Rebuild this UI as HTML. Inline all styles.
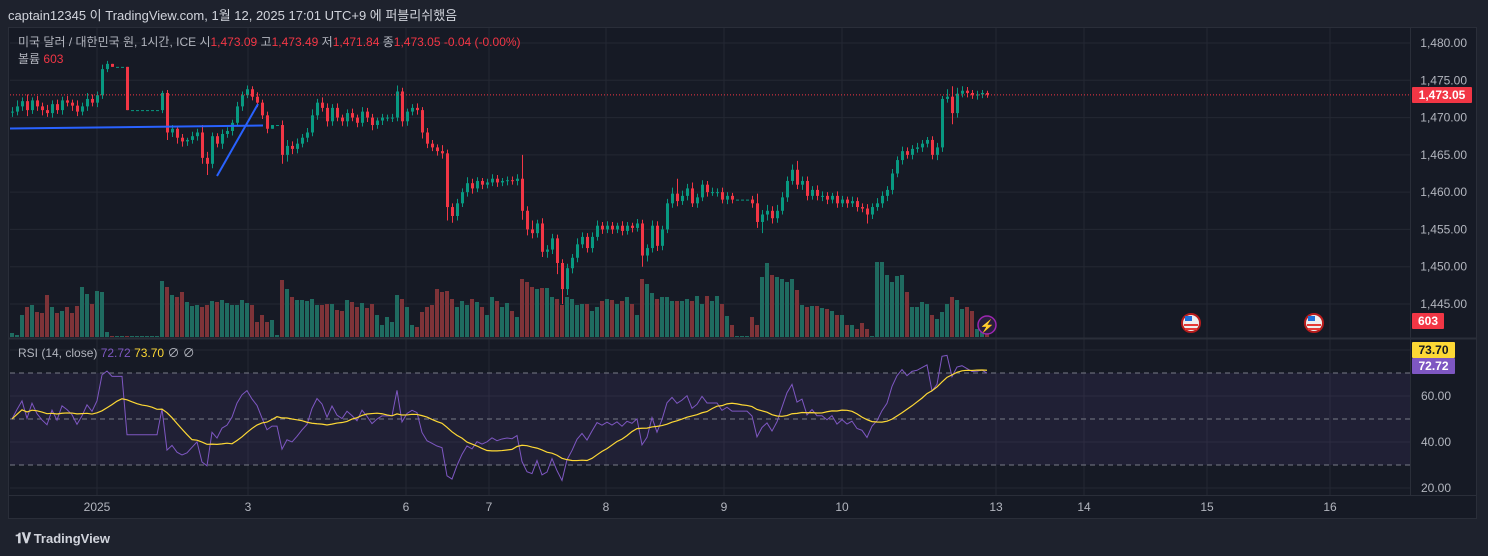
<!DOCTYPE html>
<html><head><meta charset="utf-8">
<style>
html,body{margin:0;padding:0;width:1488px;height:556px;background:#1e222d;overflow:hidden;font-family:"Liberation Sans","Noto Sans CJK KR",sans-serif;}
#hdr{position:absolute;left:8px;top:5px;font-size:13px;color:#d1d4dc;}
#panel{position:absolute;left:8px;top:27px;width:1469px;height:492px;background:#161a25;border:1px solid #2a2e39;box-sizing:border-box;}
svg{position:absolute;left:0;top:0;}
#foot{position:absolute;left:15px;top:530px;font-size:13px;color:#d1d4dc;font-weight:bold;}
</style></head><body>
<div id="hdr">captain12345 이 TradingView.com, 1월 12, 2025 17:01 UTC+9 에 퍼블리쉬했음</div>
<div id="panel"></div>
<svg id="chart" width="1488" height="556"></svg>
<div id="foot"><span style="font-size:14px;letter-spacing:-1px">𝟏𝐕</span> TradingView</div>
<script>
const closes=[1470.8,1471.5,1472.2,1471.0,1472.3,1471.5,1471.0,1470.6,1471.8,1471.0,
1472.3,1472.0,1471.6,1470.8,1471.5,1472.5,1472.0,1473.0,1476.5,1477.2,
1476.8,1476.8,1476.8,1471.0,1471.0,1471.0,1471.0,1471.0,1471.0,1471.0,
1473.3,1468.0,1468.5,1467.3,1466.8,1467.0,1467.5,1468.0,1464.6,1463.8,
1467.5,1466.5,1467.8,1468.2,1469.3,1471.5,1473.0,1473.8,1472.8,1472.0,
1470.3,1468.5,1469.0,1469.0,1465.0,1466.2,1465.8,1466.5,1467.3,1468.0,
1470.3,1472.0,1471.3,1469.5,1471.3,1470.0,1469.5,1470.6,1470.0,1469.3,
1470.8,1470.0,1469.0,1469.6,1470.0,1470.0,1470.0,1473.5,1469.5,1470.8,
1471.3,1471.0,1468.0,1466.5,1466.0,1465.5,1465.2,1458.0,1456.8,1458.5,
1460.0,1461.2,1460.5,1461.5,1461.0,1461.3,1461.8,1461.3,1461.5,1461.6,
1461.5,1461.8,1457.5,1455.0,1454.5,1455.8,1452.0,1452.3,1453.8,1450.5,
1447.0,1449.8,1451.2,1453.0,1454.0,1452.5,1454.0,1455.5,1455.0,1455.5,
1455.0,1455.5,1454.8,1455.5,1455.2,1455.8,1451.5,1452.5,1455.5,1452.8,
1455.0,1458.5,1459.8,1458.8,1459.5,1460.5,1458.5,1459.3,1461.0,1460.0,
1460.0,1460.0,1459.0,1459.5,1459.0,1459.0,1459.0,1459.0,1458.5,1456.0,
1457.0,1457.5,1456.5,1457.5,1459.3,1461.5,1463.0,1461.0,1461.5,1459.5,
1460.3,1459.5,1459.5,1459.0,1459.5,1458.5,1459.0,1458.5,1458.8,1458.0,
1457.8,1457.0,1458.0,1458.5,1459.5,1460.3,1462.5,1464.3,1465.5,1465.0,
1465.8,1466.0,1466.5,1467.0,1465.0,1466.0,1472.5,1472.8,1470.6,1473.2,
1473.6,1473.3,1473.0,1473.1,1473.3,1473.05];
const wickHi=[.6,.8,.5,.9,.4,.6,.5,.7,.5,.6,.5,.6,.4,.7,.5,.8,.6,.5,.6,.4,
0,0,0,0,0,0,0,0,0,0,.3,.4,.5,.4,.5,.3,.6,.5,1.0,.8,
.5,.4,.6,.5,.4,.6,.5,.5,.4,.6,.4,.5,0,0,.6,.8,.6,.7,.5,.6,
.8,.5,.7,.6,.5,.6,.4,.5,.6,.4,.6,.5,.5,.4,.5,.4,.5,.8,.5,.4,
.5,.6,.4,.6,.5,.4,.8,.5,.5,.6,.5,.8,.6,.5,.4,.5,.6,.5,.4,.5,
.5,.6,3.2,.6,1.2,.5,.7,.6,.6,.5,.5,.6,.5,.8,.6,.5,.6,.7,.5,.6,
.5,.4,.6,.5,.4,.6,.5,.5,.7,.6,.5,.6,.8,2.0,.7,.6,.8,.5,.6,.5,
.6,.5,.6,.5,.4,0,0,0,.5,1.3,.6,.8,.6,.8,.7,.6,.7,1.2,.6,.6,
.5,.6,.6,.5,.4,.6,.5,.4,.6,.5,.5,.6,.5,.7,.6,.5,.6,.5,.6,.5,
.5,.6,.5,.4,.5,.6,.4,1.0,1.4,.8,.6,.5,.4,.5,.4,.3];
const wickLo=[.7,.5,.6,.8,.5,.6,.7,.5,.6,.5,.6,.5,.7,.6,.5,.6,.5,.6,.5,.4,
0,0,0,0,0,0,0,0,0,0,.4,1.0,.6,.8,.7,.6,.5,.6,.8,1.5,
.6,.5,.7,.5,.6,.5,.6,.4,.5,.6,.5,.6,0,0,1.2,.9,.7,.6,.5,.6,
.5,.6,.5,.7,.6,.5,.6,.7,.5,.6,.5,.6,.7,.5,.6,.5,.6,.5,.7,.6,
.5,.6,.8,.6,.5,.6,.7,1.8,.9,.6,.5,.6,.7,.5,.6,.5,.5,.6,.5,.6,
.5,.6,1.2,.8,.7,.6,.7,.8,.6,1.5,2.0,.8,.7,.6,.5,.6,.6,.5,.6,.5,
.6,.5,.6,.5,.6,.5,1.5,.8,.6,.7,.6,.5,.6,.7,.5,.6,.5,.6,.5,.6,
.5,.6,.5,.6,.5,0,0,0,.6,.8,1.5,.8,.7,.6,.5,.6,.5,.6,.7,.6,
.5,.6,.7,.6,.5,.6,.5,.6,.5,.6,.5,1.2,.6,.5,.6,.7,.6,.5,.6,.5,
.6,.5,.6,.5,.6,.7,.6,.5,1.5,.6,.5,.6,.5,.6,.5,.4];
const volumes=[4,2,22,30,32,25,24,42,30,24,26,30,24,31,50,43,33,46,45,5,
1,1,1,1,1,1,1,1,1,1,56,50,42,40,45,35,31,32,30,32,
36,35,37,34,32,32,37,34,32,15,22,15,17,2,57,48,40,37,37,36,
38,32,32,33,33,27,26,37,35,30,34,29,33,22,12,20,15,42,38,30,
12,10,25,30,32,48,45,46,38,30,36,32,38,35,30,22,40,36,30,34,
26,20,58,55,50,48,49,49,40,38,32,40,38,32,33,33,26,30,36,38,
37,33,36,40,33,22,58,53,44,38,40,40,36,36,36,38,36,41,33,41,
36,41,33,21,12,1,1,1,20,12,60,74,62,60,58,55,58,47,32,30,
31,31,29,28,26,22,22,12,12,8,14,8,1,75,75,62,55,61,62,45,
30,30,35,33,22,18,25,33,40,37,28,30,26,8,5,3];
const priceTicks=[1480,1475,1470,1465,1460,1455,1450,1445];
const rsiTicks=[60,40,20];
const dateLabels=["2025","3","6","7","8","9","10","13","14","15","16"];
const dateIdx=[17,47.2,78.8,95.4,118.8,142.4,166,196.8,214.4,239,263.6];

const S=document.getElementById('chart');const NS='http://www.w3.org/2000/svg';
function mk(t,a,p){const e=document.createElementNS(NS,t);for(const k in a)e.setAttribute(k,a[k]);(p||S).appendChild(e);return e;}
const X=i=>12+5*i;
const PY=p=>43+(1480-p)*7.457;
const RY=v=>396+(60-v)*2.3;
const VY=v=>337-v;
const PL=10,PR=1410;
dateIdx.forEach((d,k)=>{const g=mk('line',{x1:X(d),x2:X(d),y1:28,y2:495,stroke:'#242833'});

const t=mk('text',{x:X(d),y:511,fill:'#b2b5be','font-size':12,'text-anchor':'middle'});t.textContent=dateLabels[k];
});
priceTicks.forEach(p=>{const g=mk('line',{x1:PL,x2:PR,y1:PY(p),y2:PY(p),stroke:'#242833'});

const t=mk('text',{x:1467,y:PY(p)+4,fill:'#b2b5be','font-size':12,'text-anchor':'end'});t.textContent=p.toLocaleString('en-US',{minimumFractionDigits:2});
});
mk('line',{x1:9,x2:1476,y1:338.5,y2:338.5,stroke:'#2a2e39','stroke-width':2});
mk('line',{x1:1410.5,x2:1410.5,y1:28,y2:495,stroke:'#2a2e39'});
mk('line',{x1:9,x2:1476,y1:495.5,y2:495.5,stroke:'#2a2e39'});
mk('line',{x1:PL,x2:PR,y1:RY(80),y2:RY(80),stroke:'#242833'});
rsiTicks.forEach(v=>{const g=mk('line',{x1:PL,x2:PR,y1:RY(v),y2:RY(v),stroke:'#242833'});

const t=mk('text',{x:1451,y:RY(v)+4,fill:'#b2b5be','font-size':12,'text-anchor':'end'});t.textContent=v.toFixed(2);
});
const band=mk('rect',{x:PL,y:RY(70),width:PR-PL,height:RY(30)-RY(70),fill:'rgba(126,87,194,0.1)'});

[70,50,30].forEach(v=>{const l=mk('line',{x1:PL,x2:PR,y1:RY(v),y2:RY(v),stroke:'#787b86','stroke-dasharray':'5,4'});
});
closes.forEach((c,i)=>{const o=i?closes[i-1]:c;const up=c>=o;
const b=mk('rect',{x:X(i)-2,y:VY(volumes[i]),width:4,height:volumes[i],fill:up?'#1f6b60':'#7e3338'});

const col=up?'#089981':'#f23645';const hi=Math.max(o,c)+wickHi[i],lo=Math.min(o,c)-wickLo[i];
const w=mk('line',{x1:X(i)+.5,x2:X(i)+.5,y1:PY(hi),y2:PY(lo),stroke:col});

const top=PY(Math.max(o,c)),h=Math.max(1,PY(Math.min(o,c))-top);
const r=mk('rect',{x:X(i)-1,y:top,width:3,height:h,fill:col});
});
const t1=mk('line',{x1:10,y1:128.5,x2:263,y2:125.5,stroke:'#2962ff','stroke-width':2});

const t2=mk('line',{x1:217,y1:176,x2:258,y2:104,stroke:'#2962ff','stroke-width':2});

const lc=closes[closes.length-1];
const pl=mk('line',{x1:PL,x2:PR,y1:PY(lc),y2:PY(lc),stroke:'#f23645','stroke-dasharray':'1,2'});

// RSI (Wilder, seeded neutral)
const rsi=[],sig=[];let ag=0.3,al=0.3;
closes.forEach((c,i)=>{if(i>0){const d=c-closes[i-1];ag=(ag*13+Math.max(d,0))/14;al=(al*13+Math.max(-d,0))/14;}
rsi.push(100-100/(1+ag/al));});
rsi.forEach((v,i)=>{const s=rsi.slice(Math.max(0,i-13),i+1);sig.push(s.reduce((a,b)=>a+b,0)/s.length);});
const rl=mk('polyline',{points:rsi.map((v,i)=>X(i)+','+RY(v)).join(' '),fill:'none',stroke:'#7e57c2','stroke-width':1});

const sl=mk('polyline',{points:sig.map((v,i)=>X(i)+','+RY(v)).join(' '),fill:'none',stroke:'#fdd835','stroke-width':1.2});

function badge(name,x,y,w,bg,fg,txt){const r=mk('rect',{x:x,y:y,width:w,height:16,fill:bg,rx:1});

const t=mk('text',{x:x+w/2,y:y+12,fill:fg,'font-size':12,'font-weight':'bold','text-anchor':'middle'});t.textContent=txt;}
badge('last-price-badge',1412,87,60,'#f23645','#fff',lc.toLocaleString('en-US',{minimumFractionDigits:2}));
badge('volume-badge',1412,313,32,'#f23645','#fff','603');
badge('rsi-ma-badge',1412,342,43,'#fdd835','#131722','73.70');
badge('rsi-badge',1412,358,43,'#7e57c2','#fff','72.72');
const ic=mk('circle',{cx:987,cy:325,r:9,fill:'#2a1f3d',stroke:'#9c27b0','stroke-width':1.5});

const it=mk('text',{x:987,y:330,fill:'#ce93d8','font-size':12,'text-anchor':'middle'});it.textContent='⚡';
[1191,1314].forEach(cx=>{const f=mk('circle',{cx:cx,cy:323,r:9,fill:'#eee',stroke:'#b71c1c','stroke-width':2});

mk('rect',{x:cx-6,y:316,width:7,height:5,fill:'#1e6fd9'});mk('rect',{x:cx-7,y:324,width:14,height:2,fill:'#e53935'});mk('rect',{x:cx-6,y:328,width:12,height:2,fill:'#e53935'});});
function txt(name,x,y,parts,size){const t=mk('text',{x:x,y:y,'font-size':size||12});
parts.forEach(p=>{const s=mk('tspan',{fill:p[1]},t);s.textContent=p[0];});}
txt('symbol-legend',18,46,[['미국 달러 / 대한민국 원, 1시간, ICE  시','#b2b5be'],['1,473.09','#f23645'],['  고','#b2b5be'],['1,473.49','#f23645'],['  저','#b2b5be'],['1,471.84','#f23645'],['  종','#b2b5be'],['1,473.05','#f23645'],['  -0.04 (-0.00%)','#f23645']]);
txt('volume-legend',18,63,[['볼륨  ','#b2b5be'],['603','#f23645']]);
txt('rsi-legend',18,357,[['RSI (14, close)  ','#b2b5be'],['72.72  ','#7e57c2'],['73.70  ','#fdd835'],['∅  ∅','#b2b5be']]);
</script>
</body></html>
